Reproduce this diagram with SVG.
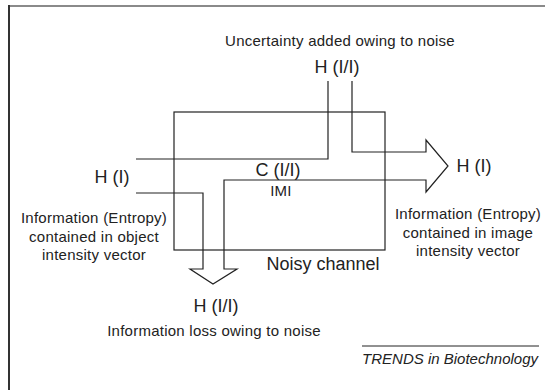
<svg xmlns="http://www.w3.org/2000/svg" width="545" height="390" viewBox="0 0 545 390">
<style>
.ln{fill:none;stroke:#222;stroke-width:1.2;stroke-linejoin:miter}
.t{font-family:"Liberation Sans",Arial,sans-serif;fill:#222;text-anchor:middle}
.s{font-size:15px;letter-spacing:0.25px}
.b{font-size:18px}
</style>
<rect width="545" height="390" fill="#fff"/>
<g id="frame">
<line x1="9" y1="6" x2="545" y2="6" stroke="#8a8a8a" stroke-width="2"/>
<line x1="9" y1="5" x2="9" y2="390" stroke="#333" stroke-width="2"/>
</g>
<g id="channel">
<rect class="ln" x="174" y="112" width="211" height="138"/>
<text class="t b" x="323" y="270">Noisy channel</text>
</g>
<g id="connectors">
<path class="ln" d="M136,159 H328 V81"/>
<path class="ln" d="M352,81 V152 H426 V140 L448,166 L426,192 V180 H224 V269 H237 L213,284 L190,269 H203 V193 H136"/>
</g>
<g id="uncertainty">
<text class="t s" x="340" y="46">Uncertainty added owing to noise</text>
<text class="t b" x="337" y="73">H (I/I)</text>
</g>
<g id="input">
<text class="t b" x="112" y="183">H (I)</text>
<text class="t s" x="94" y="223">Information (Entropy)</text>
<text class="t s" x="94" y="242">contained in object</text>
<text class="t s" x="94" y="260">intensity vector</text>
</g>
<g id="mutual">
<text class="t b" x="278" y="176">C (I/I)</text>
<text class="t s" x="281" y="196">IMI</text>
</g>
<g id="output">
<text class="t b" x="474" y="172">H (I)</text>
<text class="t s" x="468" y="219">Information (Entropy)</text>
<text class="t s" x="468" y="238">contained in image</text>
<text class="t s" x="468" y="256">intensity vector</text>
</g>
<g id="loss">
<text class="t b" x="216" y="312">H (I/I)</text>
<text class="t s" x="214" y="336">Information loss owing to noise</text>
</g>
<g id="credit">
<line x1="362" y1="346" x2="539" y2="346" stroke="#222" stroke-width="1"/>
<text x="538" y="364" font-family="'Liberation Sans',Arial,sans-serif" font-size="15" font-style="italic" fill="#222" text-anchor="end">TRENDS in Biotechnology</text>
</g>
</svg>
